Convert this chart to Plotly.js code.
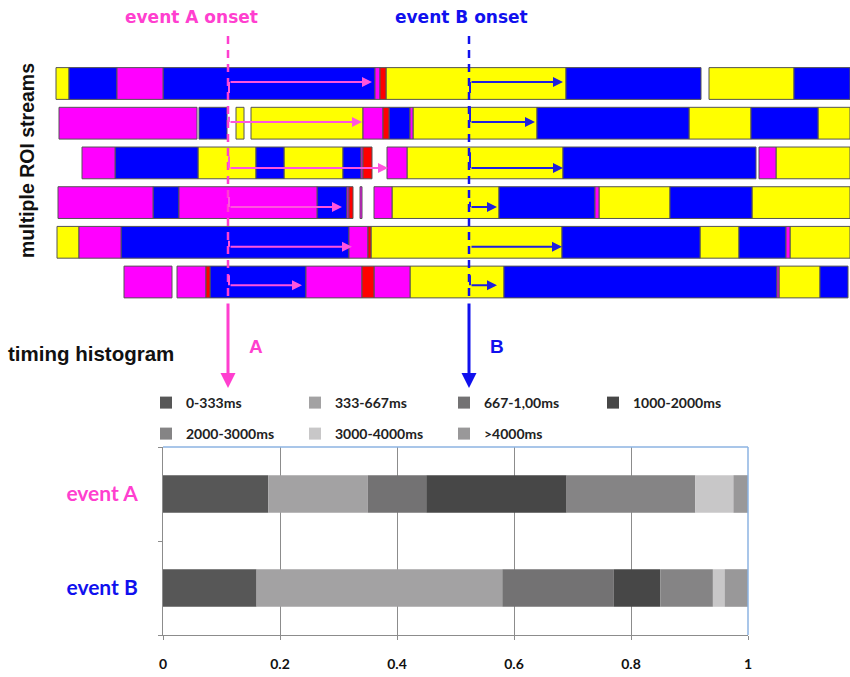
<!DOCTYPE html>
<html><head><meta charset="utf-8">
<script src="https://cdn.plot.ly/plotly-3.0.1.min.js"></script>
<style>html,body{margin:0;padding:0;background:#fff}#chart{width:850px;height:677px}</style>
</head><body><div id="chart"></div>
<script>
// ---------- timing histogram data ----------
const categories = ['event A', 'event B'];
const binLabels = ['0-333ms', '333-667ms', '667-1,00ms', '1000-2000ms', '2000-3000ms', '3000-4000ms', '>4000ms'];
const eventAShares = [0.18, 0.17, 0.10, 0.24, 0.22, 0.065, 0.025];
const eventBShares = [0.16, 0.42, 0.19, 0.08, 0.09, 0.02, 0.04];
const xTickValues = [0, 0.2, 0.4, 0.6, 0.8, 1];
const xTickLabels = ['0', '0.2', '0.4', '0.6', '0.8', '1'];

// ---------- ROI stream data: [start, end, state] in time units ----------
const stream1 = [[56,69,'Y'],[69,117,'B'],[117,163,'M'],[163,375,'B'],[375,380,'M'],[380,386,'R'],[386,566,'Y'],[566,701,'B'],[709,794,'Y'],[794,850,'B']];
const stream2 = [[59,197,'M'],[199,227,'B'],[236,244,'Y'],[251,363,'Y'],[363,383,'M'],[383,389,'R'],[389,410,'B'],[410,413,'M'],[413,537,'Y'],[537,689,'B'],[689,751,'Y'],[751,818,'B'],[818,850,'Y']];
const stream3 = [[82,115,'M'],[115,198,'B'],[198,256,'Y'],[256,284,'B'],[284,343,'Y'],[343,361,'B'],[361,363,'M'],[363,372,'R'],[387,407,'M'],[407,563,'Y'],[563,756,'B'],[759,776,'M'],[776,850,'Y']];
const stream4 = [[58,153,'M'],[153,179,'B'],[179,317,'M'],[317,347,'B'],[347,349,'M'],[349,353,'R'],[360,362,'M'],[374,392,'M'],[392,499,'Y'],[499,595,'B'],[595,599,'M'],[599,670,'Y'],[670,752,'B'],[752,850,'Y']];
const stream5 = [[57,79,'Y'],[79,121,'M'],[121,349,'B'],[349,368,'M'],[368,371,'R'],[371,562,'Y'],[562,700,'B'],[700,739,'Y'],[739,786,'B'],[786,790,'M'],[790,850,'Y']];
const stream6 = [[124,172,'M'],[177,206,'M'],[206,210,'R'],[210,306,'B'],[306,362,'M'],[362,374,'R'],[374,410,'M'],[410,504,'Y'],[504,777,'B'],[777,779,'M'],[779,820,'Y'],[820,848,'B']];
const streamStates = ['Y', 'B', 'M', 'R'];
const onsetA = 228;
const onsetB = 469;
const responseEndA = [372, 362, 388, 342, 352, 302];
const responseEndB = [563, 535, 563, 497, 562, 497];
const responseRowShift = [-0.04, -0.03, 0.13, 0.11, 0.11, 0.08];
const stubA = [0.28, -0.13, -0.3, -0.25, -0.15, -0.25];
const stubB = [0.28, -0.4, -0.4, -0.13, 0, -0.25];

// ---------- styles ----------
const binColors = ['#575757', '#a3a2a3', '#737273', '#474747', '#858485', '#c8c7c8', '#999899'];
const stateColors = {Y: '#ffff00', B: '#0000ff', M: '#ff00ff', R: '#ff0000'};
const pink = '#ff3fcf';
const blue = '#1010ee';
const W = 850, H = 677;
const rowTopPx = 83.5, rowPitchPx = 39.7;

const traces = [];
// stream bars
const streams = [stream1, stream2, stream3, stream4, stream5, stream6];
streamStates.forEach(s => {
  const y = [], base = [], len = [];
  streams.forEach((row, i) => row.forEach(seg => {
    if (seg[2] === s) { y.push(i); base.push(seg[0]); len.push(seg[1] - seg[0]); }
  }));
  traces.push({type: 'bar', orientation: 'h', xaxis: 'x2', yaxis: 'y2', y: y, base: base, x: len,
    width: 0.8, marker: {color: stateColors[s], line: {color: '#555', width: 1}},
    showlegend: false, hoverinfo: 'skip'});
});
// histogram stacked bars
const cumA = [0], cumB = [0];
eventAShares.forEach((v, i) => cumA.push(cumA[i] + v));
eventBShares.forEach((v, i) => cumB.push(cumB[i] + v));
binLabels.forEach((lab, i) => {
  traces.push({type: 'bar', orientation: 'h', name: lab, y: [0.5, 1.5],
    x: [eventAShares[i], eventBShares[i]], base: [cumA[i], cumB[i]], width: 0.4,
    marker: {color: binColors[i], line: {width: 0}},
    legend: i < 4 ? 'legend' : 'legend2', hoverinfo: 'x+name'});
});

const shapes = [];
const annotations = [];
const rowsRange = [(H - rowTopPx) / rowPitchPx, -rowTopPx / rowPitchPx];
const pxRow = p => (p - rowTopPx) / rowPitchPx;
// onset dashed lines
[[onsetA, pink], [onsetB, blue]].forEach(([t, c]) => {
  shapes.push({type: 'line', xref: 'x2', yref: 'y2', x0: t, x1: t, y0: pxRow(36), y1: pxRow(302),
    line: {color: c, width: 2.5, dash: '8px,6px'}});
  annotations.push({xref: 'x2', yref: 'y2', axref: 'x2', ayref: 'y2', x: t, y: pxRow(388), ax: t, ay: pxRow(302),
    text: '', showarrow: true, arrowhead: 2, arrowsize: 1, arrowwidth: 3, arrowcolor: c});
});
// response arrows
for (let i = 0; i < 6; i++) {
  const yy = i + responseRowShift[i];
  [[onsetA, responseEndA[i], stubA[i], '#ff55dd'], [onsetB, responseEndB[i], stubB[i], '#2020dd']].forEach(([t0, t1, st, c]) => {
    annotations.push({xref: 'x2', yref: 'y2', axref: 'x2', ayref: 'y2', x: t1, y: yy, ax: t0 + 1, ay: yy,
      text: '', showarrow: true, arrowhead: 2, arrowsize: 1, arrowwidth: 2, arrowcolor: c});
    if (st !== 0) shapes.push({type: 'line', xref: 'x2', yref: 'y2', x0: t0 + 1, x1: t0 + 1, y0: yy, y1: yy + st,
      line: {color: c, width: 2}});
  });
}
// histogram frame (top/right light blue border)
shapes.push({type: 'line', xref: 'paper', yref: 'paper', x0: 163 / W, x1: 748 / W, y0: 1 - 447 / H, y1: 1 - 447 / H, line: {color: '#8db3e2', width: 1.5}});
shapes.push({type: 'line', xref: 'paper', yref: 'paper', x0: 748 / W, x1: 748 / W, y0: 1 - 447 / H, y1: 1 - 635 / H, line: {color: '#8db3e2', width: 1.5}});

// text labels
const P = (x, y) => ({xref: 'paper', yref: 'paper', x: x / W, y: 1 - y / H, xanchor: 'center', yanchor: 'middle', showarrow: false});
annotations.push(Object.assign(P(191, 17), {text: 'event A onset', font: {family: 'DejaVu Sans', size: 17, color: pink, weight: 'bold'}}));
annotations.push(Object.assign(P(461, 17), {text: 'event B onset', font: {family: 'DejaVu Sans', size: 17, color: blue, weight: 'bold'}}));
annotations.push(Object.assign(P(27, 161), {text: 'multiple ROI streams', textangle: -90, font: {family: 'Liberation Sans', size: 19.5, color: '#111', weight: 'bold'}}));
annotations.push(Object.assign(P(91, 353), {text: 'timing histogram', font: {family: 'Liberation Sans', size: 20.5, color: '#111', weight: 'bold'}}));
annotations.push(Object.assign(P(256, 346), {text: 'A', font: {family: 'Liberation Sans', size: 19, color: pink, weight: 'bold'}}));
annotations.push(Object.assign(P(497, 346), {text: 'B', font: {family: 'Liberation Sans', size: 19, color: blue, weight: 'bold'}}));

const legendCommon = {orientation: 'h', xanchor: 'left', yanchor: 'middle', entrywidth: 104, entrywidthmode: 'pixels',
  itemwidth: 30, bgcolor: 'rgba(0,0,0,0)', font: {family: 'Lato', size: 14, color: '#222', weight: 'bold'}, traceorder: 'normal'};

const layout = {
  width: W, height: H, margin: {l: 0, r: 0, t: 0, b: 0},
  paper_bgcolor: '#fff', plot_bgcolor: 'rgba(0,0,0,0)',
  barmode: 'overlay', showlegend: true,
  legend: Object.assign({}, legendCommon, {x: 146 / W, y: 1 - 403 / H}),
  legend2: Object.assign({}, legendCommon, {x: 146 / W, y: 1 - 434 / H}),
  xaxis: {domain: [163 / W, 748 / W], range: [0, 1], tickvals: xTickValues, ticktext: xTickLabels,
    showgrid: true, gridcolor: '#8c8c8c', gridwidth: 1, zeroline: false,
    showline: true, linecolor: '#8c8c8c', ticks: 'outside', ticklen: 4, tickcolor: '#8c8c8c',
    ticklabelstandoff: 12, tickfont: {family: 'Lato', size: 14, color: '#111', weight: 'bold'}, fixedrange: true},
  yaxis: {domain: [1 - 635 / H, 1 - 447 / H], range: [2, 0], tickvals: [0.5, 1.5],
    ticktext: ['<span style="color:' + pink + '">' + categories[0] + '</span>', '<span style="color:' + blue + '">' + categories[1] + '</span>'],
    ticks: '', showgrid: false, zeroline: false, showline: true, linecolor: '#8c8c8c',
    minor: {tickmode: 'linear', tick0: 0, dtick: 1, ticks: 'outside', ticklen: 4, tickcolor: '#8c8c8c', showgrid: false},
    ticklabelstandoff: 20, tickfont: {family: 'Lato', size: 21, weight: 'bold'}, fixedrange: true},
  xaxis2: {domain: [0, 1], range: [0, W], visible: false, fixedrange: true, anchor: 'y2'},
  yaxis2: {domain: [0, 1], range: rowsRange, visible: false, fixedrange: true, anchor: 'x2'},
  shapes: shapes, annotations: annotations
};
Plotly.newPlot('chart', traces, layout, {displayModeBar: false, staticPlot: false});
</script></body></html>
